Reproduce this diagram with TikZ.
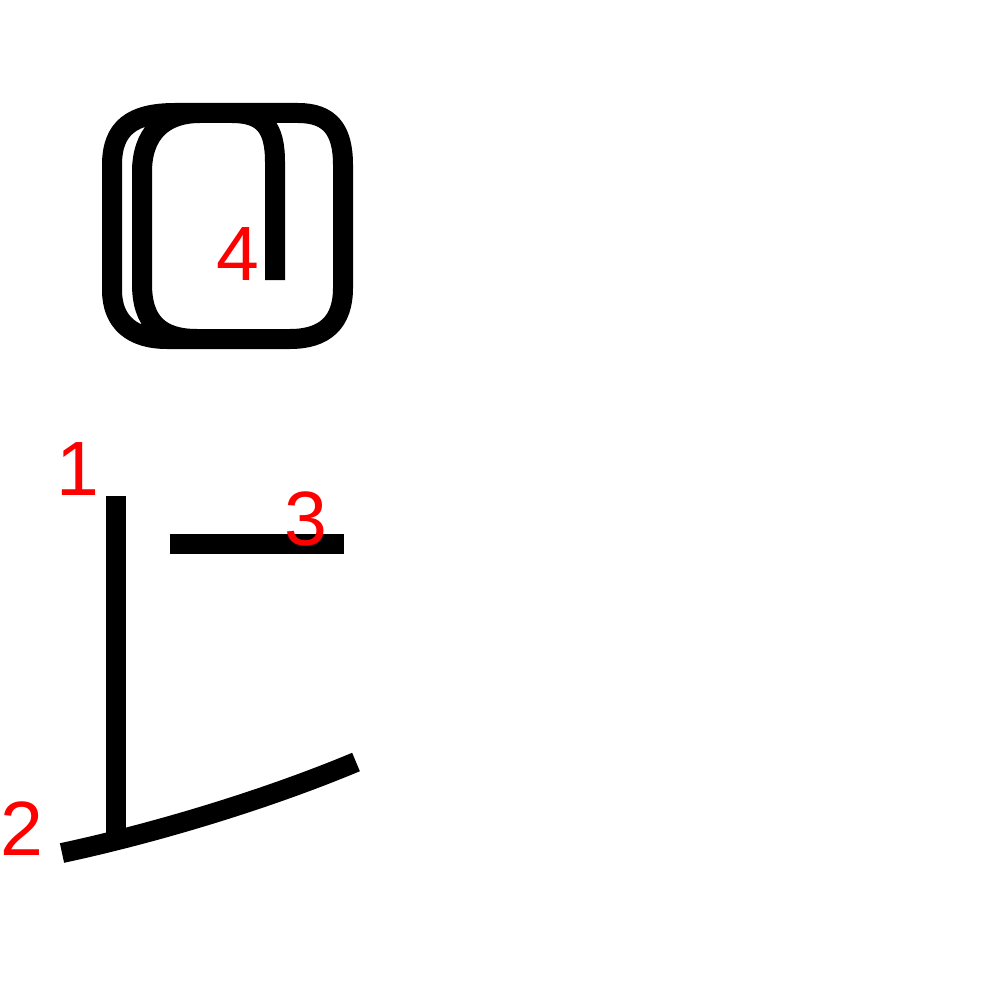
\documentclass[tikz,border=0pt]{standalone}
\usepackage{fontspec}
\setmainfont{Liberation Sans}
\begin{document}
\begin{tikzpicture}[x=1pt,y=-1pt,
  stroke/.style={line width=20pt,black,line cap=butt},
  num/.style={text=red,font=\fontsize{77}{77}\selectfont,inner sep=0pt,anchor=base}]
\useasboundingbox[fill=white] (0,0) rectangle (1000,1000);
% stroke 1
\coordinate (s1a) at (116,496);
\coordinate (s1b) at (116,833);
\draw[stroke] (s1a) -- (s1b);
% stroke 2
\coordinate (s2a) at (62,853);
\coordinate (s2b) at (356,762);
\draw[stroke] (s2a) .. controls (160,832) and (270,798) .. (s2b);
% stroke 3
\coordinate (s3a) at (170,544);
\coordinate (s3b) at (344,544);
\draw[stroke] (s3a) -- (s3b);
% stroke 4
\coordinate (s4a) at (275,280);
\draw[stroke,line join=round] (s4a) -- (275,162) .. controls (275,128) and (264,113) .. (232,113)
  -- (200,113) .. controls (162,113) and (142,135) .. (142,172)
  -- (142,284) .. controls (142,322) and (160,339) .. (197,339)
  -- (290,339) .. controls (325,339) and (343,322) .. (343,288)
  -- (343,165) .. controls (343,130) and (330,113) .. (298,113)
  -- (175,113) .. controls (132,113) and (112,128) .. (112,165)
  -- (112,290) .. controls (112,322) and (132,339) .. (167,339) -- (230,339);
% labels
\node[num] (l1) at (78,495) {1};
\node[num] (l2) at (22,855) {2};
\node[num] (l3) at (306,545) {3};
\node[num] (l4) at (238,280) {4};
\end{tikzpicture}
\end{document}
